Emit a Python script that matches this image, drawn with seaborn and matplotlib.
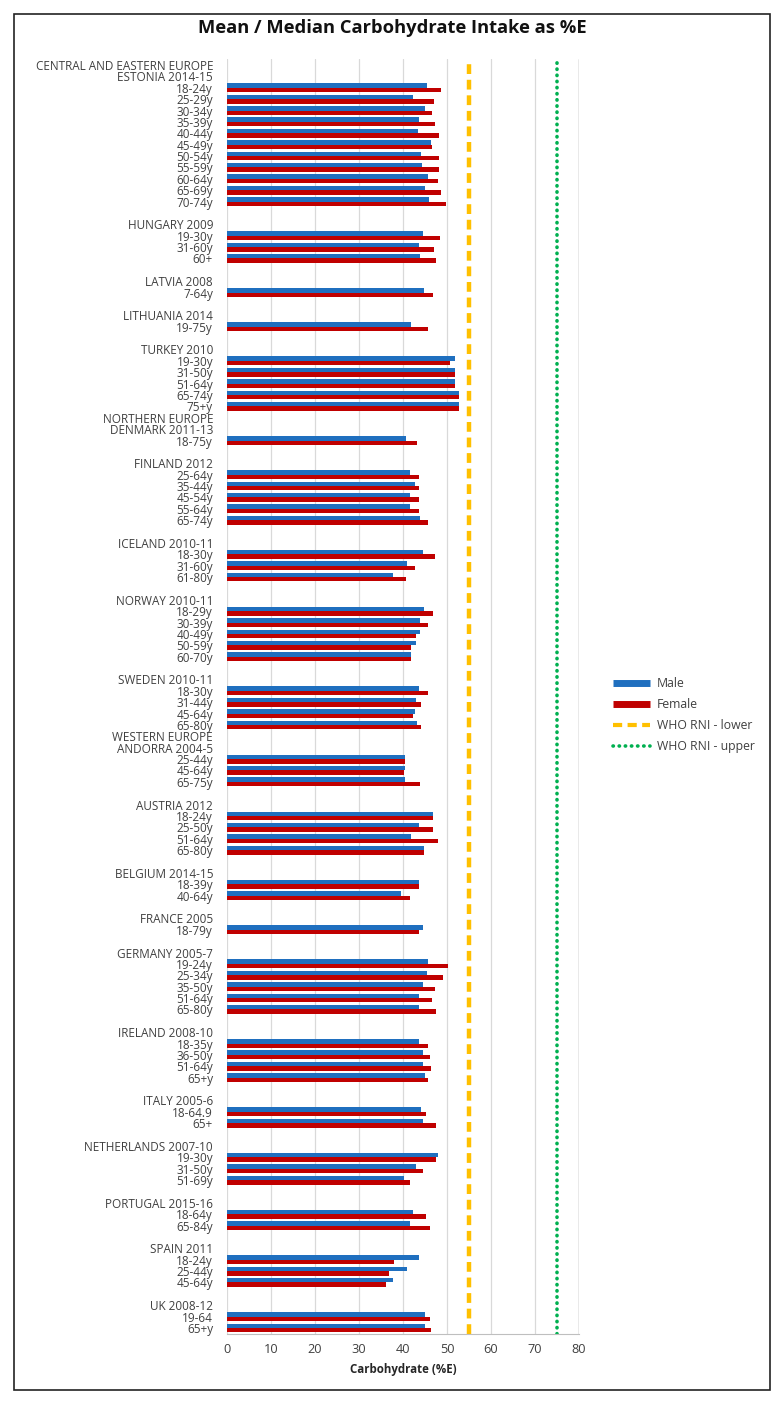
import pandas as pd
import matplotlib
matplotlib.use("Agg")
import matplotlib.pyplot as plt
import seaborn as sns
from matplotlib.lines import Line2D
from matplotlib.patches import Rectangle

# row labels, top to bottom ("" = blank spacer row)
labels = [
    "CENTRAL AND EASTERN EUROPE", "ESTONIA 2014-15",
    "18-24y", "25-29y", "30-34y", "35-39y", "40-44y", "45-49y", "50-54y",
    "55-59y", "60-64y", "65-69y", "70-74y", "",
    "HUNGARY 2009", "19-30y", "31-60y", "60+", "",
    "LATVIA 2008", "7-64y", "",
    "LITHUANIA 2014", "19-75y", "",
    "TURKEY 2010", "19-30y", "31-50y", "51-64y", "65-74y", "75+y",
    "NORTHERN EUROPE", "DENMARK 2011-13", "18-75y", "",
    "FINLAND 2012", "25-64y", "35-44y", "45-54y", "55-64y", "65-74y", "",
    "ICELAND 2010-11", "18-30y", "31-60y", "61-80y", "",
    "NORWAY 2010-11", "18-29y", "30-39y", "40-49y", "50-59y", "60-70y", "",
    "SWEDEN 2010-11", "18-30y", "31-44y", "45-64y", "65-80y",
    "WESTERN EUROPE", "ANDORRA 2004-5", "25-44y", "45-64y", "65-75y", "",
    "AUSTRIA 2012", "18-24y", "25-50y", "51-64y", "65-80y", "",
    "BELGIUM 2014-15", "18-39y", "40-64y", "",
    "FRANCE 2005", "18-79y", "",
    "GERMANY 2005-7", "19-24y", "25-34y", "35-50y", "51-64y", "65-80y", "",
    "IRELAND 2008-10", "18-35y", "36-50y", "51-64y", "65+y", "",
    "ITALY 2005-6", "18-64.9", "65+", "",
    "NETHERLANDS 2007-10", "19-30y", "31-50y", "51-69y", "",
    "PORTUGAL 2015-16", "18-64y", "65-84y", "",
    "SPAIN 2011", "18-24y", "25-44y", "45-64y", "",
    "UK 2008-12", "19-64", "65+y",
]

N = None
male = [
    N, N, 45.5, 42.3, 44.9, 43.6, 43.4, 46.3, 44.1, 44.3, 45.7, 45.1, 46.0, N,
    N, 44.6, 43.6, 43.9, N,
    N, 44.8, N,
    N, 41.8, N,
    N, 51.8, 51.8, 51.8, 52.7, 52.7,
    N, N, 40.8, N,
    N, 41.5, 42.7, 41.5, 41.5, 43.9, N,
    N, 44.6, 41.0, 37.7, N,
    N, 44.8, 43.9, 43.9, 42.9, 41.8, N,
    N, 43.7, 43.0, 42.7, 43.3,
    N, N, 40.5, 40.5, 40.5, N,
    N, 46.9, 43.7, 41.8, 44.8, N,
    N, 43.7, 39.6, N,
    N, 44.5, N,
    N, 45.8, 45.5, 44.5, 43.6, 43.7, N,
    N, 43.7, 44.6, 44.6, 44.9, N,
    N, 44.1, 44.6, N,
    N, 47.9, 42.9, 40.3, N,
    N, 42.3, 41.7, N,
    N, 43.7, 41.0, 37.7, N,
    N, 44.9, 44.9,
]
female = [
    N, N, 48.6, 47.0, 46.7, 47.2, 48.1, 46.7, 48.1, 48.1, 47.9, 48.7, 49.8, N,
    N, 48.4, 47.0, 47.4, N,
    N, 46.9, N,
    N, 45.8, N,
    N, 50.8, 51.8, 51.8, 52.7, 52.7,
    N, N, 43.3, N,
    N, 43.7, 43.7, 43.7, 43.7, 45.8, N,
    N, 47.2, 42.7, 40.8, N,
    N, 46.9, 45.8, 42.9, 41.8, 41.8, N,
    N, 45.8, 44.2, 42.2, 44.2,
    N, N, 40.5, 40.2, 43.9, N,
    N, 46.9, 46.9, 47.9, 44.8, N,
    N, 43.6, 41.5, N,
    N, 43.6, N,
    N, 50.3, 49.2, 47.2, 46.7, 47.6, N,
    N, 45.7, 46.1, 46.4, 45.8, N,
    N, 45.3, 47.6, N,
    N, 47.6, 44.6, 41.5, N,
    N, 45.3, 46.1, N,
    N, 37.9, 36.8, 36.1, N,
    N, 46.1, 46.3,
]

who_lower = 55
who_upper = 75
x_ticks = [0, 10, 20, 30, 40, 50, 60, 70, 80]

keys = [f"r{i}" for i in range(len(labels))]
df = pd.DataFrame({"row": keys, "Male": male, "Female": female})
long = df.melt(id_vars="row", var_name="sex", value_name="value").dropna()

blue = "#1F6FBF"
red = "#C00000"
yellow = "#FFC000"
green = "#00B050"

sns.set_style("white")
plt.rcParams["font.family"] = ["Open Sans", "DejaVu Sans"]

fig = plt.figure(figsize=(7.84, 14.03), dpi=100)
ax = fig.add_axes([0.2895, 0.0494, 0.449, 0.9083])

ax.xaxis.grid(True, color="#D9D9D9", lw=0.9)
ax.set_axisbelow(True)

sns.barplot(data=long, y="row", x="value", hue="sex", order=keys,
            hue_order=["Male", "Female"], palette=[blue, red], orient="h",
            width=0.78, saturation=1, legend=False, linewidth=0, ax=ax)

ax.axvline(who_lower, color=yellow, lw=3.2, dashes=(2.2, 1.3))
ax.axvline(who_upper, color=green, lw=2.6, linestyle=(0, (0.1, 1.6)),
           dash_capstyle="round")

ax.set_xlim(0, 80)
ax.set_xticks(x_ticks)
ax.set_yticks(range(len(keys)))
ax.set_yticklabels(labels, fontsize=8.5, color="#404040")
ax.set_ylim(len(keys) - 0.5, -0.5)
ax.tick_params(axis="y", length=0, pad=10)
ax.tick_params(axis="x", length=4, color="#BFBFBF", labelsize=9.2,
               labelcolor="#404040", direction="out", pad=3)
ax.set_ylabel("")
ax.set_xlabel("Carbohydrate (%E)", fontsize=8.3, fontweight="bold",
              color="#262626", labelpad=5)
for side in ["top", "right", "left"]:
    ax.spines[side].set_visible(False)
ax.spines["bottom"].set_color("#BFBFBF")
ax.axvline(80, color="#A6A6A6", lw=1)

handles = [
    Line2D([], [], color=blue, lw=5, solid_capstyle="butt"),
    Line2D([], [], color=red, lw=5, solid_capstyle="butt"),
    Line2D([], [], color=yellow, lw=3, dashes=(2.2, 1.3)),
    Line2D([], [], color=green, lw=2.6, linestyle=(0, (0.1, 1.6)),
           dash_capstyle="round"),
]
fig.legend(handles, ["Male", "Female", "WHO RNI - lower", "WHO RNI - upper"],
           loc="upper left", bbox_to_anchor=(0.768, 0.525), frameon=False,
           fontsize=8.8, handlelength=3.0, labelspacing=0.64, handletextpad=0.6,
           labelcolor="#404040")

fig.text(0.5, 0.98, "Mean / Median Carbohydrate Intake as %E", ha="center",
         va="center", fontsize=13.2, fontweight="bold", color="#111111")

fig.patches.append(Rectangle((14 / 784, 1 - 1390 / 1403), 756 / 784,
                             1376 / 1403, transform=fig.transFigure,
                             fill=False, edgecolor="#222222", lw=1.2))

fig.savefig("out.png", dpi=100, facecolor="white")
